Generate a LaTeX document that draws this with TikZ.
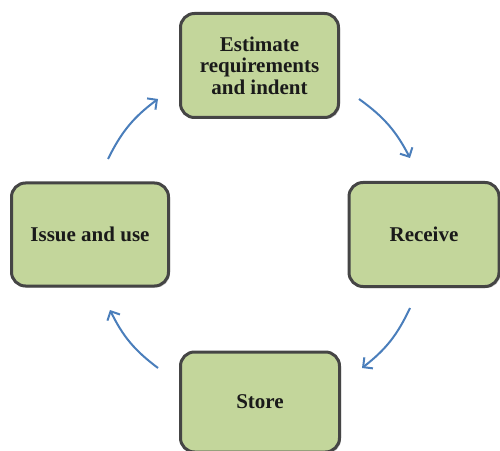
\documentclass[tikz,border=0pt]{standalone}
\usepackage{fontspec}
\setmainfont{Liberation Serif}
\usetikzlibrary{arrows.meta,shadows}
\definecolor{boxfill}{HTML}{C3D69B}
\definecolor{boxline}{HTML}{454545}
\definecolor{arrowblue}{HTML}{4A7EBB}
\definecolor{txt}{HTML}{1A1A1A}
\tikzset{
  stepbox/.style={draw=boxline, line width=3pt, fill=boxfill, rounded corners=14pt,
    align=center, text=txt, font=\fontsize{21}{21.5}\selectfont\bfseries,
    inner sep=0pt, drop shadow={shadow xshift=1.5pt, shadow yshift=-1.5pt, opacity=0.35, fill=black!60}},
  flow/.style={draw=arrowblue, line width=2pt, -{Straight Barb[length=7pt,width=14pt,line width=2pt]}, bend left=13.5}
}
\begin{document}
\begin{tikzpicture}[x=1pt,y=1pt]
\useasboundingbox (0,0) rectangle (500,450);
\node[stepbox, minimum width=158pt, minimum height=104pt] (est) at (259.5,384.5) {Estimate\\requirements\\and indent};
\node[stepbox, minimum width=150pt, minimum height=104pt] (rec) at (424,215.5) {Receive};
\node[stepbox, minimum width=157pt, minimum height=103pt] (iss) at (90,215.5) {Issue and use};
\node[stepbox, minimum width=159pt, minimum height=100pt] (sto) at (260,48) {Store};
\coordinate (a1s) at (108,291);
\coordinate (a1e) at (158,351);
\coordinate (a2s) at (359,351);
\coordinate (a2e) at (410,292);
\coordinate (a3s) at (410,142);
\coordinate (a3e) at (362,82);
\coordinate (a4s) at (158,82);
\coordinate (a4e) at (110,140);
\draw[flow] (a1s) to (a1e);
\draw[flow] (a2s) to (a2e);
\draw[flow] (a3s) to (a3e);
\draw[flow] (a4s) to (a4e);
\end{tikzpicture}
\end{document}
